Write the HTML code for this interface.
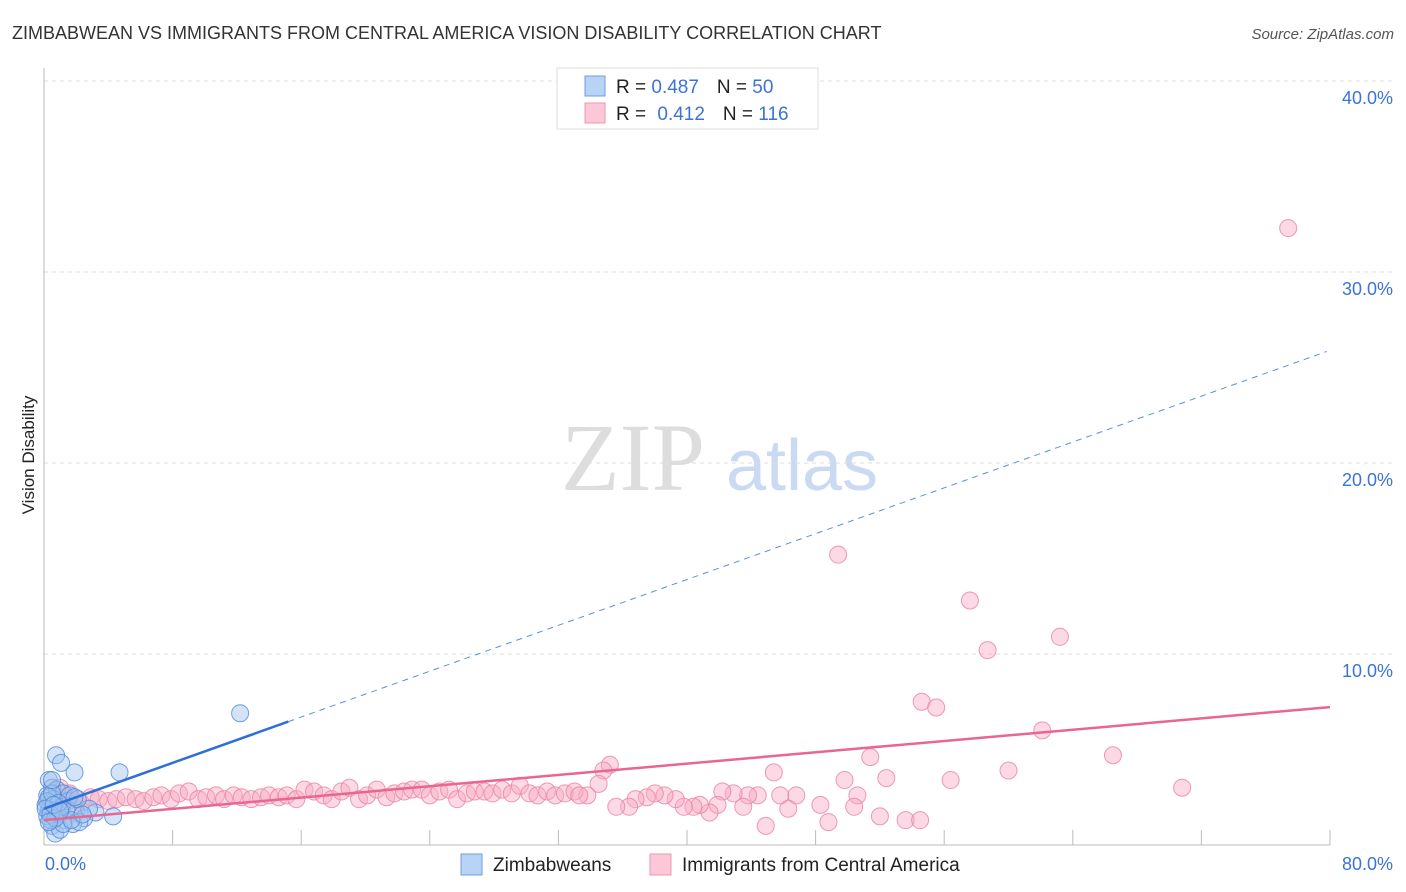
<!DOCTYPE html>
<html><head><meta charset="utf-8"><style>
body{margin:0;background:#fff;font-family:"Liberation Sans",sans-serif;}
svg{display:block}
</style></head><body>
<svg id="chart" width="1406" height="892">
<text x="12" y="39" font-size="18" fill="#333">ZIMBABWEAN VS IMMIGRANTS FROM CENTRAL AMERICA VISION DISABILITY CORRELATION CHART</text>
<text x="1394" y="39" font-size="15" fill="#555" font-style="italic" text-anchor="end">Source: ZipAtlas.com</text>
<text transform="translate(34,455) rotate(-90)" font-size="17" fill="#222" text-anchor="middle">Vision Disability</text>
<g>
<text x="633" y="490" font-size="96" font-family="Liberation Serif,serif" fill="#ddd" text-anchor="middle">ZIP</text>
<text x="802" y="490" font-size="72" fill="#c9daf2" text-anchor="middle">atlas</text>
</g>
<g id="grid"></g>
<g id="axes"></g>
<g id="pinkpts"></g>
<g id="bluepts"></g>
<g id="lines"></g>
<g>
<rect x="557" y="68" width="261" height="61" fill="#fff" stroke="#ddd"/>
<rect x="585" y="76" width="20" height="20" fill="#b9d3f5" stroke="#6c9ee0"/>
<rect x="585" y="103" width="20" height="20" fill="#fcc7d6" stroke="#ee94ae"/>
<text x="616" y="93" font-size="19" fill="#222">R = <tspan fill="#3b73d6">0.487</tspan><tspan dx="18">N = </tspan><tspan fill="#3b73d6">50</tspan></text>
<text x="616" y="120" font-size="19" fill="#222">R = <tspan fill="#3b73d6" dx="6">0.412</tspan><tspan dx="18">N = </tspan><tspan fill="#3b73d6">116</tspan></text>
</g>
<g>
<rect x="461" y="854" width="21" height="21" fill="#b9d3f5" stroke="#6c9ee0"/>
<text x="493" y="871" font-size="19" fill="#222">Zimbabweans</text>
<rect x="650" y="854" width="21" height="21" fill="#fcc7d6" stroke="#ee94ae"/>
<text x="682" y="871" font-size="19" fill="#222">Immigrants from Central America</text>
</g>
</svg>
<script>
const NS="http://www.w3.org/2000/svg";
const yTicks=[10,20,30,40];
const yTickLabels=["10.0%","20.0%","30.0%","40.0%"];
const xTicks=[0,8,16,24,32,40,48,56,64,72,80];
const xEndLabels=["0.0%","80.0%"];
const blueX=[12.2,4.7,1.9,0.75,1.06,4.3,3.2,0.3,0.5,0.2,0.8,1.2,0.4,0.6,1.5,2.0,2.5,0.3,0.1,0.9,1.3,1.8,2.2,0.5,0.7,1.0,0.2,0.4,0.6,1.1,1.6,2.8,0.3,0.8,1.4,2.1,0.2,0.5,0.9,1.2,0.1,0.4,0.7,1.7,2.4,0.6,1.0,1.9,0.3,0.5];
const blueY=[6.9,3.8,3.8,4.7,4.3,1.5,1.7,3.4,3.0,2.6,2.9,2.7,2.2,2.0,2.3,1.7,1.4,1.8,2.1,1.6,1.3,1.1,1.2,1.0,0.6,0.8,1.5,1.3,2.4,2.0,2.6,1.9,2.5,1.7,1.9,2.4,2.3,2.7,2.2,1.1,1.9,1.6,1.4,1.3,1.6,2.1,1.8,2.5,1.2,3.4];
const pinkX=[77.4,49.4,57.6,58.7,63.2,54.6,55.5,62.1,66.5,70.8,60.0,56.4,52.4,51.4,49.8,50.6,50.4,52.0,53.6,54.5,48.8,48.3,46.8,46.3,45.4,44.9,45.8,44.4,43.8,43.5,42.9,42.2,41.9,41.4,40.8,40.4,39.8,39.3,38.6,38.0,37.5,36.8,36.4,35.6,35.2,34.8,34.5,33.8,
0.8,1.3,1.8,2.3,2.9,3.4,4.0,4.5,5.1,5.7,6.2,6.8,7.3,7.9,8.4,9.0,9.6,10.1,10.7,11.2,11.8,12.3,12.9,13.5,14.0,14.6,15.1,15.7,16.2,16.8,17.4,17.9,18.5,19.0,19.6,20.1,20.7,21.3,21.8,22.4,22.9,23.5,24.0,24.6,25.2,25.7,26.3,26.8,27.4,27.9,28.5,29.1,29.6,30.2,30.7,31.3,31.8,32.4,33.0,33.3,0.4,0.6,1.0,1.5,2.0,0.3,0.9,1.6];
const pinkY=[32.3,15.2,12.8,10.2,10.9,7.5,7.2,6.0,4.7,3.0,3.9,3.4,3.5,4.6,3.4,2.6,2.0,1.5,1.3,1.3,1.2,2.1,2.6,1.9,3.8,1.0,2.6,2.6,2.6,2.0,2.7,2.8,2.1,1.7,2.1,2.0,2.0,2.4,2.6,2.7,2.5,2.4,2.0,2.0,4.2,3.9,3.2,2.6,
2.6,2.3,2.4,2.2,2.5,2.4,2.3,2.4,2.5,2.4,2.3,2.5,2.6,2.4,2.7,2.8,2.4,2.5,2.6,2.4,2.6,2.5,2.4,2.5,2.6,2.5,2.6,2.4,2.9,2.8,2.6,2.4,2.8,3.0,2.4,2.6,2.9,2.5,2.7,2.8,2.9,2.9,2.6,2.8,2.9,2.4,2.7,2.8,2.8,2.7,2.9,2.7,3.1,2.7,2.6,2.8,2.6,2.7,2.8,2.6,2.2,2.8,3.0,2.5,1.9,2.1,2.4,2.7];
const blueLine=[1.9,0.30]; // intercept, slope
const blueSolidEnd=15.2;
const pinkLine=[1.3,0.074];
const X=v=>44+v*16.075, Y=v=>845-v*19.1;
function mk(tag,attrs,parent){const e=document.createElementNS(NS,tag);for(const k in attrs)e.setAttribute(k,attrs[k]);document.getElementById(parent).appendChild(e);return e;}
yTicks.forEach((t,i)=>{
 const l=mk('line',{x1:44,x2:1395,y1:Y(t),y2:Y(t),stroke:'#ddd','stroke-dasharray':'4,4'},'grid');
 
 
 const tx=mk('text',{x:1393,y:Y(t)+23,'font-size':18,fill:'#3b73d6','text-anchor':'end'},'grid');
 tx.textContent=yTickLabels[i];
 
 
});
const ya=mk('line',{x1:44,x2:44,y1:68,y2:845,stroke:'#bbb'},'axes');


const xa=mk('line',{x1:44,x2:1330,y1:845,y2:845,stroke:'#bbb'},'axes');


xTicks.forEach(t=>{
 const l=mk('line',{x1:X(t),x2:X(t),y1:830,y2:845,stroke:'#bbb'},'axes');
 
 
});
const xl0=mk('text',{x:45,y:870,'font-size':18,fill:'#3b73d6'},'axes');xl0.textContent=xEndLabels[0];


const xl1=mk('text',{x:1393,y:870,'font-size':18,fill:'#3b73d6','text-anchor':'end'},'axes');xl1.textContent=xEndLabels[1];


pinkX.forEach((x,i)=>{
 const c=mk('circle',{cx:X(x),cy:Y(pinkY[i]),r:8.5,fill:'rgba(249,170,195,0.45)',stroke:'rgba(232,130,163,0.8)','stroke-width':1},'pinkpts');
 
 
});
blueX.forEach((x,i)=>{
 const c=mk('circle',{cx:X(x),cy:Y(blueY[i]),r:8.5,fill:'rgba(160,195,240,0.45)',stroke:'rgba(80,135,215,0.8)','stroke-width':1},'bluepts');
 
 
});
const bf=v=>blueLine[0]+blueLine[1]*v, pf=v=>pinkLine[0]+pinkLine[1]*v;
const b1=mk('line',{x1:X(0),y1:Y(bf(0)),x2:X(blueSolidEnd),y2:Y(bf(blueSolidEnd)),stroke:'#2f6fd6','stroke-width':2.5},'lines');


const b2=mk('line',{x1:X(blueSolidEnd),y1:Y(bf(blueSolidEnd)),x2:X(79.8),y2:Y(bf(79.8)),stroke:'#5b8fdf','stroke-width':1,'stroke-dasharray':'6,5'},'lines');


const p1=mk('line',{x1:X(0),y1:Y(pf(0)),x2:X(80),y2:Y(pf(80)),stroke:'#e8668f','stroke-width':2.5},'lines');


</script>
</body></html>
